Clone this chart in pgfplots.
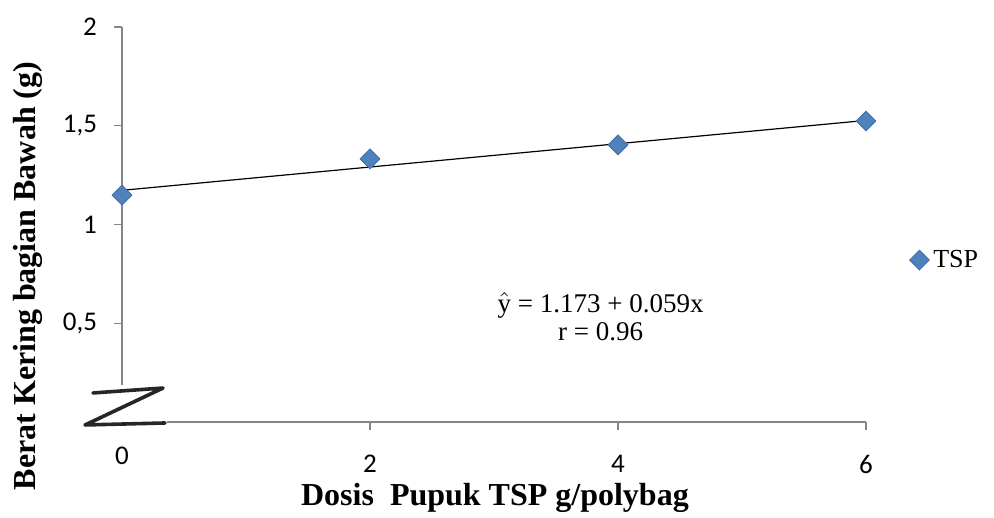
\documentclass[border=0pt]{standalone}
\usepackage{pgfplots}
\pgfplotsset{compat=1.18}
\usepackage{fontspec}
\setmainfont{Liberation Serif}
\newfontfamily\carlito{Carlito}
\definecolor{tspblue}{HTML}{4F81BD}
\definecolor{tspedge}{HTML}{3F6DA5}
\definecolor{axisgray}{HTML}{868686}

\begin{document}
\begin{tikzpicture}
\useasboundingbox (-61pt,-48pt) rectangle (436pt,211pt);
\begin{axis}[
    at={(0,0)}, anchor=south west,
    scale only axis,
    width=372pt, height=197.5pt,
    xmin=0, xmax=6, ymin=0, ymax=2,
    axis line style={draw=none},
    clip=false,
    xtick={2,4,6}, extra x ticks={0}, extra x tick style={major tick length=0pt},
    ytick={0.5,1,1.5,2},
    yticklabels={{0,5},1,{1,5},2},
    tick style={axisgray, line width=0.6pt},
    major tick length=4pt,
    tick pos=left, tick align=outside,
    ticklabel style={font=\carlito\fontsize{13.5}{15}\selectfont},
    /pgf/number format/assume math mode=true,
    yticklabel style={xshift=-5pt},
    xticklabel style={yshift=-9pt},
    legend style={at={(1.058,0.41)}, anchor=west, draw=none, fill=none,
      font=\fontsize{13}{15}\selectfont, inner sep=0pt},
    legend cell align=left,
    legend image code/.code={\draw[#1] plot coordinates {(0.18cm,0cm)};},
]
% axis lines (with the break at the origin)
\draw[axisgray, line width=0.6pt] (axis cs:0,2) -- (axis cs:0,0.187);
\draw[axisgray, line width=0.6pt] (axis cs:0.363,0) -- (axis cs:6,0);
% break mark
\draw[black, line width=1.8pt, line join=round, line cap=round, opacity=0.85]
  (axis cs:-0.234,0.147) -- (axis cs:0.331,0.172) -- (axis cs:-0.298,-0.015) -- (axis cs:0.347,-0.005);

\addplot[only marks, mark=square*, mark size=3.5pt,
  mark options={rotate=45, fill=tspblue, draw=tspedge, line width=0.4pt}]
  coordinates {(0,1.149) (2,1.332) (4,1.403) (6,1.524)};
\addlegendentry{TSP}
\addplot[black, line width=0.6pt, forget plot] coordinates {(0,1.173) (6,1.527)};

\node[font=\fontsize{13.5}{16}\selectfont, align=center] at (axis cs:3.86,0.535)
  {$\hat{\mathrm{y}}$ = 1.173 + 0.059x\\[-2pt] r = 0.96};
\node[font=\bfseries\fontsize{16}{18}\selectfont] at (axis cs:3.008,-0.385) {Dosis\ \ Pupuk TSP g/polybag};
\node[font=\bfseries\fontsize{16}{18}\selectfont, rotate=90] at (axis cs:-0.758,0.739) {Berat Kering bagian Bawah (g)};
\end{axis}
\end{tikzpicture}
\end{document}
